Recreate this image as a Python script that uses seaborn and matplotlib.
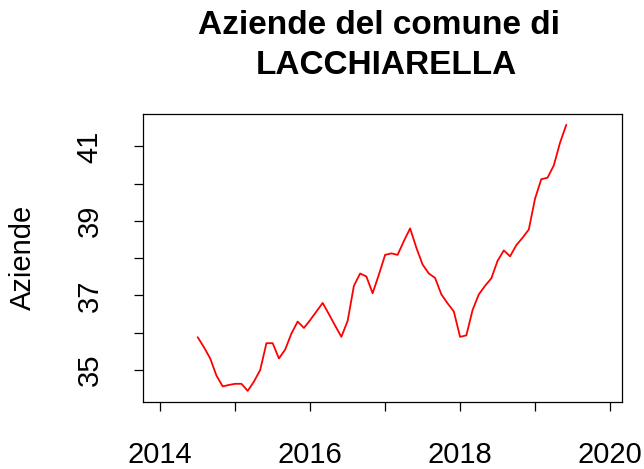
import pandas as pd
import seaborn as sns
import matplotlib.pyplot as plt

# Dati (aziende per mese, da luglio 2014)
aziende = [35.88, 35.61, 35.31, 34.85, 34.56, 34.60, 34.63, 34.63, 34.44, 34.69,
           35.00, 35.72, 35.72, 35.31, 35.55, 35.98, 36.30, 36.13, 36.34,
           36.57, 36.80, 36.50, 36.19, 35.89, 36.32, 37.26, 37.59, 37.51, 37.06,
           37.56, 38.09, 38.13, 38.09, 38.46, 38.80, 38.28, 37.83, 37.59, 37.47,
           37.03, 36.79, 36.57,
           35.89, 35.93, 36.61, 37.03, 37.26, 37.46, 37.93, 38.21, 38.05, 38.35,
           38.55, 38.77, 39.60, 40.12, 40.16, 40.49, 41.10, 41.58]
x_ticks = [2014, 2015, 2016, 2017, 2018, 2019, 2020]
x_labels = ['2014', '', '2016', '', '2018', '', '2020']
y_ticks = [35, 36, 37, 38, 39, 40, 41]
y_labels = ['35', '', '37', '', '39', '', '41']

mesi = pd.date_range('2014-07-01', periods=len(aziende), freq='MS')
df = pd.DataFrame({'anno': mesi.year + (mesi.month - 1) / 12, 'aziende': aziende})

sns.set_style('white')
plt.rcParams['font.family'] = ['Liberation Sans', 'DejaVu Sans']
plt.rcParams['text.color'] = 'black'
plt.rcParams['axes.labelcolor'] = 'black'
plt.rcParams['xtick.color'] = 'black'
plt.rcParams['ytick.color'] = 'black'

fig = plt.figure(figsize=(6.44, 4.69), dpi=100)
W, H = 644, 469
ax = fig.add_axes([143 / W, 1 - 401.7 / H, (622 - 143) / W, (401.7 - 114) / H])

sns.lineplot(data=df, x='anno', y='aziende', color='red', linewidth=1.3, ax=ax)

ax.set_xlim(2013.77, 2020.16)
ax.set_ylim(34.15, 41.87)
ax.set_xticks(x_ticks)
ax.set_xticklabels(x_labels)
ax.set_yticks(y_ticks)
ax.set_yticklabels(y_labels, rotation=90, va='center')
ax.tick_params(axis='both', direction='out', length=6.5, width=0.9,
               color='black', labelcolor='black', labelsize=21,
               bottom=True, left=True)
ax.tick_params(axis='x', pad=22)
ax.tick_params(axis='y', pad=22)
for s in ax.spines.values():
    s.set_color('black')
    s.set_linewidth(0.9)

ax.set_xlabel('')
ax.set_ylabel('Aziende', fontsize=21, va='center')
ax.yaxis.set_label_coords((22.5 - 143) / (622 - 143), 0.5)

fig.text(379 / W, 1 - 34 / H, 'Aziende del comune di', ha='center', va='baseline',
         fontsize=24, fontweight='bold')
fig.text(386 / W, 1 - 74 / H, 'LACCHIARELLA', ha='center', va='baseline',
         fontsize=24, fontweight='bold')

plt.savefig('out.png', dpi=100, facecolor='white')
